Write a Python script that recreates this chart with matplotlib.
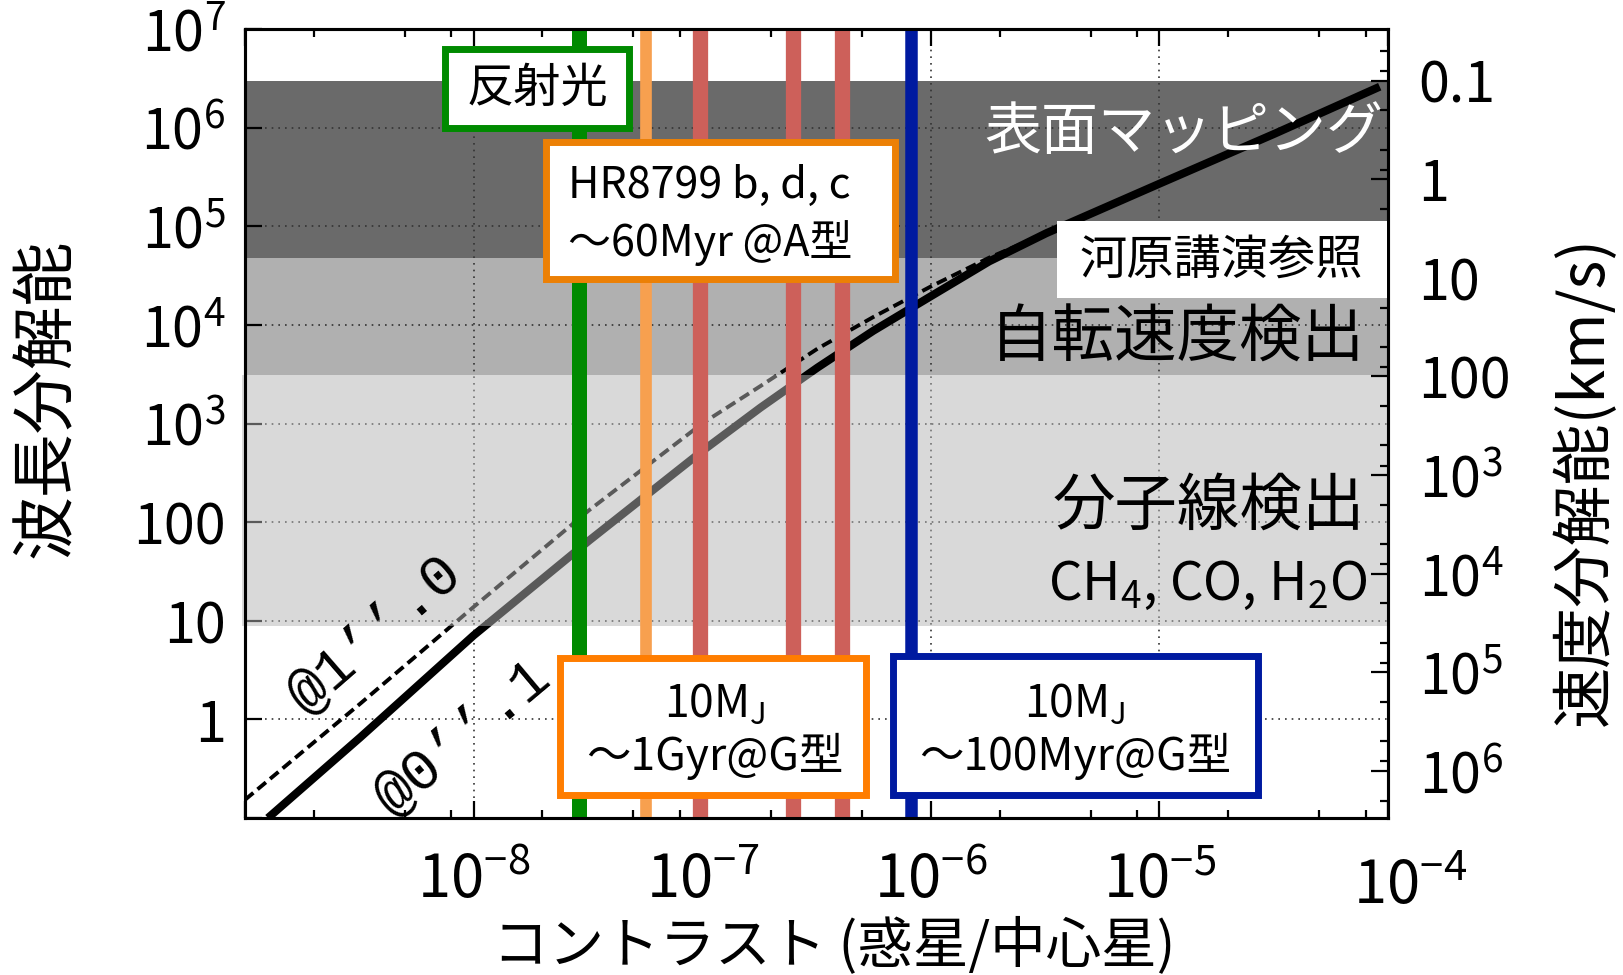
import matplotlib
matplotlib.use('Agg')
import matplotlib.pyplot as plt
from matplotlib.patches import Rectangle
from matplotlib.ticker import FixedLocator, NullFormatter, LogLocator

plt.rcParams['font.family'] = ['Noto Sans CJK JP', 'DejaVu Sans']
plt.rcParams['mathtext.fontset'] = 'custom'
plt.rcParams['mathtext.rm'] = 'Noto Sans CJK JP'
plt.rcParams['mathtext.it'] = 'Noto Sans CJK JP'
plt.rcParams['mathtext.bf'] = 'Noto Sans CJK JP'

# required resolution vs. contrast (planet / star)
contrast_01 = [1.26e-9, 3.2e-9, 1e-8, 3.2e-8, 1e-7, 1.8e-7, 3.2e-7, 5.6e-7,
               1e-6, 1.8e-6, 3.2e-6, 1e-5, 3.2e-5, 9.2e-5]
resol_01 = [0.1, 0.66, 7.1, 65, 525, 1450, 3700, 8700,
            1.95e4, 4.4e4, 8.5e4, 2.7e5, 8.7e5, 2.6e6]
contrast_10 = [1e-9, 3.2e-9, 1e-8, 3.2e-8, 1e-7, 1.8e-7, 3.2e-7, 5.6e-7,
               1e-6, 1.8e-6, 3.2e-6]
resol_10 = [0.153, 1.45, 13.8, 132, 1000, 2400, 5750, 1.2e4,
            2.45e4, 4.8e4, 8.5e4]

# shaded regions (resolution ranges)
band_mapping = (4.8e4, 3e6)
band_rotation = (3.1e3, 4.8e4)
band_molecule = (8.9, 3.1e3)

# planets (contrast), colour, line width
planet_contrast = [2.9e-8, 5.7e-8, 9.8e-8, 2.5e-7, 4.1e-7, 8.2e-7]
planet_colors = ['#008a00', '#f7a04f', '#cd605a', '#cd605a', '#cd605a', '#001aa0']
planet_widths = [10.8, 8.4, 11, 11, 11, 9]
planet_top = [1.0, 0.995, 1.0, 0.995, 0.995, 1.0]

x_ticks = [1e-9, 1e-8, 1e-7, 1e-6, 1e-5, 1e-4]
x_labels = ['', '10$^{-8}$', '10$^{-7}$', '10$^{-6}$', '10$^{-5}$', '']
y_ticks = [0.1, 1, 10, 100, 1e3, 1e4, 1e5, 1e6, 1e7]
y_labels = ['', '1', '10', '100', '10$^{3}$', '10$^{4}$', '10$^{5}$', '10$^{6}$', '10$^{7}$']
vel_ticks = [0.1, 1, 10, 100, 1e3, 1e4, 1e5, 1e6]
vel_labels = ['0.1', '1', '10', '100', '10$^{3}$', '10$^{4}$', '10$^{5}$', '10$^{6}$']
C_KMS = 3e5

W, H = 1624, 975
fig = plt.figure(figsize=(W / 100, H / 100), dpi=100)
ax = fig.add_axes([245 / W, 1 - 818 / H, 1143 / W, 789 / H])


def px(x, y):
    return x / W, 1 - y / H


ax.set_xscale('log')
ax.set_yscale('log')
ax.set_xlim(1e-9, 1e-4)
ax.set_ylim(0.1, 1e7)

# bands
ax.axhspan(*band_mapping, xmin=-0.002, color='#6a6a6a', lw=0, zorder=0.1)
ax.axhspan(*band_rotation, xmin=-0.002, color='#b0b0b0', lw=0, zorder=0.1)
ax.axhspan(*band_molecule, xmin=-0.003, color='#b4b4b4', alpha=0.5, lw=0,
           zorder=3, clip_on=False)

ax.set_axisbelow(True)
ax.grid(True, which='major', linestyle=(0, (1, 3)), color='#333333', lw=1.2)

ax.plot(contrast_01, resol_01, color='black', lw=5.8, solid_capstyle='butt', zorder=2)
ax.plot(contrast_10, resol_10, color='black', lw=2.8, dashes=(2.8, 1.4), zorder=2)

for c, col, w, top in zip(planet_contrast, planet_colors, planet_widths, planet_top):
    ax.axvline(c, ymax=top, color=col, lw=w, zorder=4)

# ticks
ax.xaxis.set_major_locator(FixedLocator(x_ticks))
ax.set_xticklabels(x_labels)
ax.xaxis.set_minor_locator(LogLocator(base=10, subs=(2, 5, 8)))
ax.xaxis.set_minor_formatter(NullFormatter())
ax.yaxis.set_major_locator(FixedLocator(y_ticks))
ax.set_yticklabels(y_labels)
ax.yaxis.set_minor_locator(LogLocator(base=10, subs=(2, 5, 8)))
ax.yaxis.set_minor_formatter(NullFormatter())
ax.tick_params(which='both', direction='in', top=True, right=False, width=1.6)
ax.tick_params(which='major', length=12)
ax.tick_params(which='minor', length=6)
ax.tick_params(axis='x', which='major', pad=24, labelsize=43)
ax.tick_params(axis='y', which='major', pad=14, labelsize=40)
for s in ax.spines.values():
    s.set_linewidth(2.2)
ax.annotate('10$^{-4}$', xy=(1e-4, 0), xycoords=('data', 'axes fraction'),
            xytext=(16, -28), textcoords='offset points', ha='center', va='top',
            fontsize=43, annotation_clip=False)

ax2 = ax.twinx()
ax2.set_yscale('log')
ax2.set_ylim(ax.get_ylim())
ax2.yaxis.set_major_locator(FixedLocator([C_KMS / v for v in vel_ticks]))
ax2.set_yticklabels(vel_labels)
minor_v = [k * 10.0 ** n for n in range(-2, 7) for k in (2, 5, 8)]
ax2.yaxis.set_minor_locator(FixedLocator([C_KMS / v for v in minor_v]))
ax2.yaxis.set_minor_formatter(NullFormatter())
ax2.tick_params(which='both', direction='in', width=1.6)
ax2.tick_params(which='major', length=12, labelsize=40, pad=22)
ax2.tick_params(which='minor', length=6)
for s in ax2.spines.values():
    s.set_linewidth(2.2)

# axis labels
fig.text(*px(834, 946), 'コントラスト (惑星/中心星)', fontsize=40, ha='center', va='center')
fig.text(*px(47, 398), '波長分解能', fontsize=46, rotation=90, ha='center', va='center')
fig.text(*px(1585, 481), '速度分解能(km/s)', fontsize=44, rotation=90, ha='center', va='center')

# region texts
fig.text(*px(1383, 133), '表面マッピング', fontsize=41, color='white', ha='right', va='center', zorder=7)
fig.text(*px(1365, 339), '自転速度検出', fontsize=45, ha='right', va='center', zorder=7)
fig.text(*px(1365, 507), '分子線検出', fontsize=45, ha='right', va='center', zorder=7)
fig.text(*px(1367, 585), 'CH$_4$, CO, H$_2$O', fontsize=38, ha='right', va='center', zorder=7)

# separation labels along curves
fig.text(*px(375, 634), '@1’’.0', fontsize=42, family='Liberation Mono', rotation=41,
         rotation_mode='anchor', ha='center', va='center', zorder=7)
fig.text(*px(463, 737), '@0’’.1', fontsize=42, family='Liberation Mono', rotation=40,
         rotation_mode='anchor', ha='center', va='center', zorder=7)


def box(x0, y0, x1, y1, ec, lw=5.0):
    d = lw * 100 / 72 / 2 if ec != 'none' else 0
    r = Rectangle(px(x0 + d, y1 - d), (x1 - x0 - 2 * d) / W, (y1 - y0 - 2 * d) / H,
                  transform=fig.transFigure, fc='white', ec=ec, lw=lw if ec != 'none' else 0,
                  zorder=6)
    fig.add_artist(r)


box(442, 46, 632, 131, '#008a00')
fig.text(*px(537, 89), '反射光', fontsize=34, ha='center', va='center', zorder=7)

box(543, 139, 898, 282, '#ec8005')
fig.text(*px(568, 186), 'HR8799 b, d, c', fontsize=31, ha='left', va='center', zorder=7)
fig.text(*px(568, 243), '～60Myr @A型', fontsize=31, ha='left', va='center', zorder=7)

box(557, 655, 869, 798, '#ff7d00')
fig.text(*px(715, 704), '10M$_\\mathrm{J}$', fontsize=32, ha='center', va='center', zorder=7)
fig.text(*px(715, 756), '～1Gyr@G型', fontsize=32, ha='center', va='center', zorder=7)

box(890, 653, 1261, 798, '#001aa0')
fig.text(*px(1075, 704), '10M$_\\mathrm{J}$', fontsize=32, ha='center', va='center', zorder=7)
fig.text(*px(1075, 756), '～100Myr@G型', fontsize=32, ha='center', va='center', zorder=7)

box(1057, 221, 1387, 298, 'none')
fig.text(*px(1221, 260), '河原講演参照', fontsize=34, ha='center', va='center', zorder=7)

fig.savefig('out.png', dpi=100)
